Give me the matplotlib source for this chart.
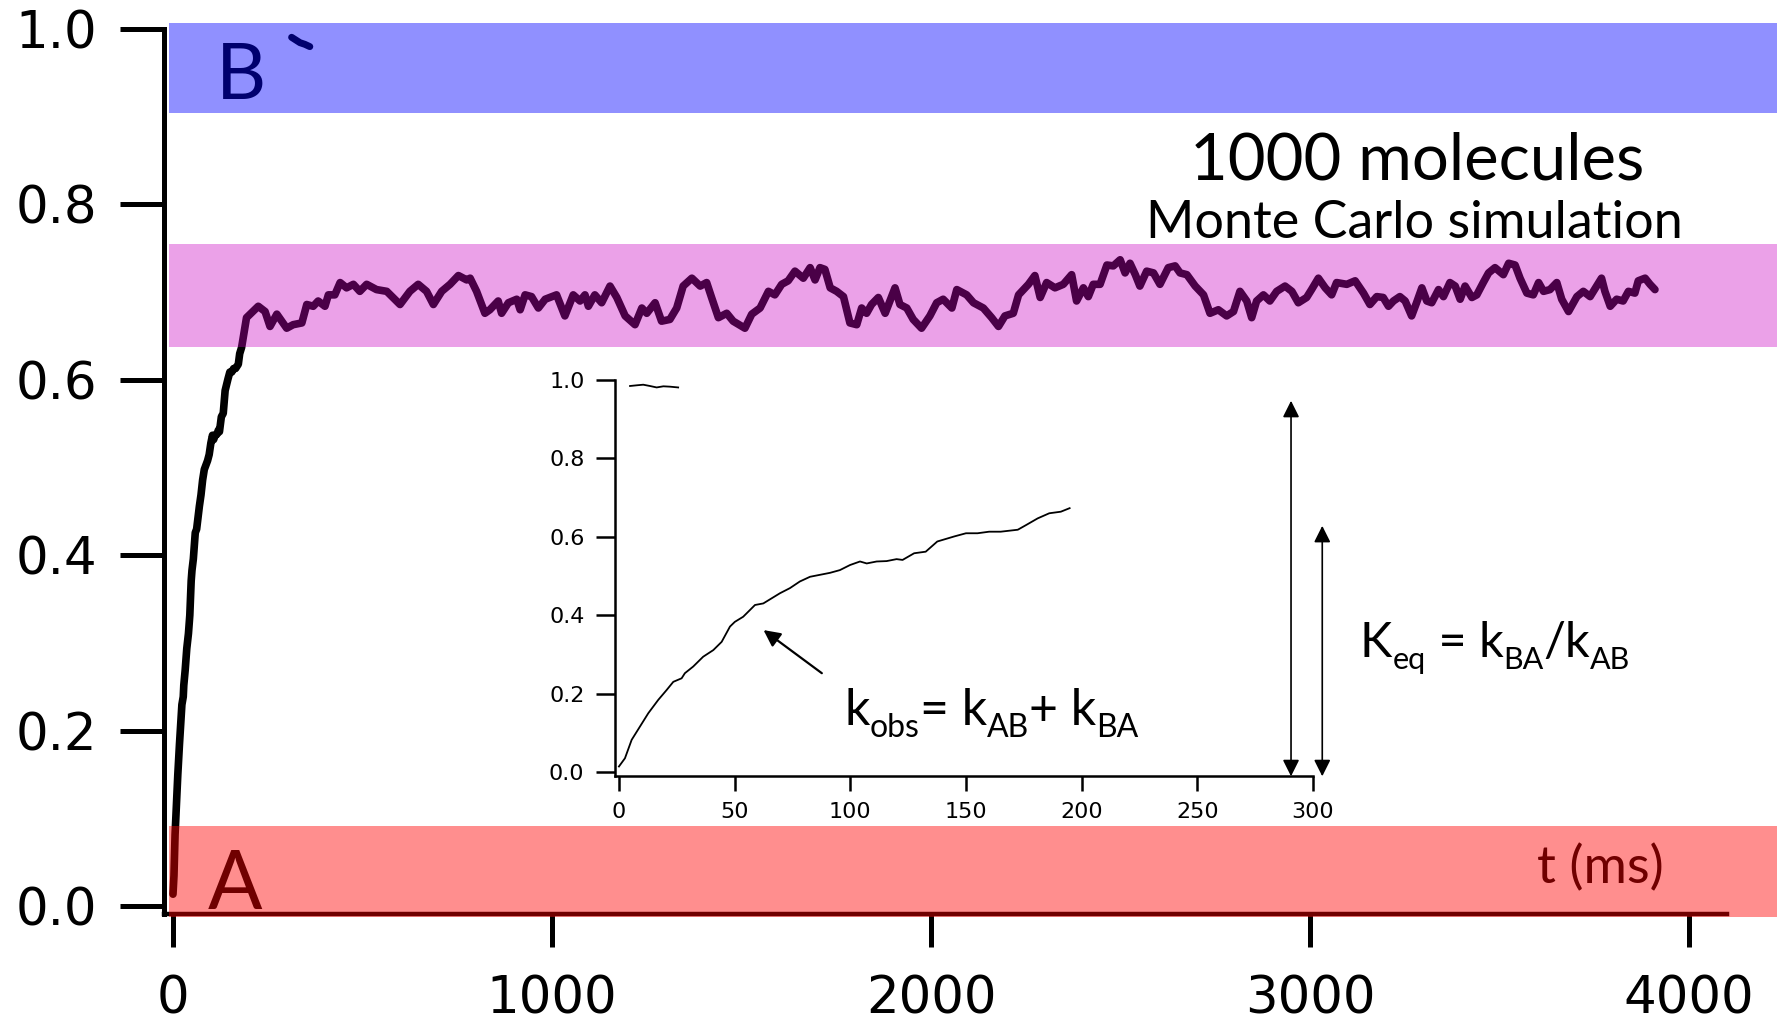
import matplotlib
matplotlib.use('Agg')
import matplotlib.pyplot as plt
from matplotlib.transforms import offset_copy

# ---------------- data ----------------
# early rise of A->B conversion (also shown in the inset), t in ms
rise_t = [0, 2.6, 5.5, 9.1, 12.7, 17.0, 20.6, 23.5, 27.1, 28.5, 32.1, 36.4, 40.8, 44.4,
          48.0, 50.1, 53.7, 56.6, 58.8, 62.4, 66.0, 69.6, 73.9, 78.2, 82.6, 86.9, 91.2,
          95.5, 99.9, 104.2, 107.1, 111.4, 115.7, 120.0, 122.6, 127.6, 132.6, 137.6,
          145.0, 150.0, 155.0, 160.0, 165.0, 172.4, 176.0, 181.0, 186.0, 191.0, 194.8]
rise_v = [0.014, 0.035, 0.082, 0.116, 0.150, 0.184, 0.209, 0.230, 0.239, 0.252, 0.269,
          0.294, 0.311, 0.332, 0.371, 0.383, 0.396, 0.413, 0.426, 0.430, 0.443, 0.456,
          0.469, 0.486, 0.498, 0.503, 0.508, 0.515, 0.528, 0.537, 0.532, 0.537, 0.538,
          0.543, 0.541, 0.558, 0.562, 0.588, 0.601, 0.609, 0.609, 0.613, 0.613, 0.618,
          0.630, 0.647, 0.660, 0.664, 0.673]

# equilibrium fluctuations, t in ms
plateau_t = [181, 194, 225, 243, 256, 274, 300, 317, 340, 353, 370, 383, 401, 410, 427, 441,
             458, 476, 493, 511, 537, 564, 599, 625, 647, 669, 687, 709, 731, 753, 775,
             784, 801, 823, 836, 858, 867, 885, 907, 916, 929, 946, 964, 982, 1012, 1034,
             1056, 1074, 1087, 1096, 1113, 1131, 1153, 1171, 1193, 1219, 1237, 1250, 1272,
             1289, 1311, 1329, 1346, 1369, 1391, 1408, 1421, 1439, 1461, 1478, 1509, 1527,
             1549, 1571, 1588, 1606, 1623, 1641, 1663, 1681, 1694, 1707, 1720, 1734, 1751,
             1769, 1786, 1804, 1817, 1830, 1843, 1861, 1879, 1905, 1918, 1936, 1953, 1975,
             1997, 2015, 2032, 2055, 2068, 2094, 2112, 2138, 2160, 2178, 2195, 2217, 2231,
             2257, 2274, 2288, 2305, 2327, 2349, 2371, 2384, 2402, 2415, 2428, 2446, 2464,
             2481, 2499, 2512, 2525, 2539, 2551, 2569, 2587, 2604, 2626, 2644, 2657, 2675,
             2697, 2719, 2736, 2758, 2780, 2798, 2815, 2833, 2846, 2859, 2877, 2894, 2912,
             2934, 2952, 2969, 2991, 3004, 3022, 3040, 3057, 3070, 3097, 3119, 3141, 3158,
             3176, 3193, 3207, 3220, 3237, 3251, 3268, 3281, 3295, 3308, 3321, 3339, 3352,
             3369, 3383, 3396, 3409, 3427, 3440, 3457, 3471, 3488, 3510, 3524, 3541, 3554,
             3572, 3589, 3603, 3616, 3633, 3651, 3664, 3682, 3704, 3721, 3739, 3756, 3769,
             3778, 3792, 3809, 3826, 3840, 3857, 3866, 3884, 3897, 3910]
plateau_v = [0.637, 0.671, 0.684, 0.678, 0.661, 0.675, 0.659, 0.663, 0.665, 0.686, 0.684,
             0.690, 0.684, 0.697, 0.697, 0.711, 0.705, 0.709, 0.701, 0.709, 0.703, 0.701,
             0.686, 0.701, 0.709, 0.701, 0.686, 0.701, 0.709, 0.719, 0.714,
             0.716, 0.701, 0.676, 0.680, 0.690, 0.676, 0.688, 0.692, 0.680, 0.697, 0.695,
             0.682, 0.692, 0.697, 0.673, 0.697, 0.690, 0.697, 0.684, 0.697, 0.688, 0.707,
             0.694, 0.673, 0.663, 0.682, 0.676, 0.688, 0.667, 0.669, 0.682, 0.707, 0.716,
             0.707, 0.711, 0.694, 0.671, 0.676, 0.667, 0.659, 0.675, 0.682, 0.701, 0.697,
             0.709, 0.713, 0.724, 0.716, 0.728, 0.714, 0.728, 0.726, 0.705, 0.701, 0.695,
             0.665, 0.663, 0.682, 0.676, 0.686, 0.694, 0.676, 0.705, 0.686, 0.682, 0.669,
             0.659, 0.673, 0.688, 0.692, 0.682, 0.703, 0.697, 0.688, 0.682, 0.671, 0.661,
             0.673, 0.676, 0.697, 0.709, 0.719, 0.694, 0.711, 0.705, 0.709, 0.720,
             0.690, 0.705, 0.695, 0.709, 0.709, 0.731, 0.730, 0.737, 0.722, 0.733, 0.720,
             0.707, 0.724, 0.722, 0.709, 0.728, 0.730, 0.722, 0.720, 0.707, 0.697, 0.676,
             0.680, 0.673, 0.678, 0.701, 0.690, 0.671, 0.690, 0.697, 0.690, 0.701, 0.707,
             0.701, 0.688, 0.694, 0.703, 0.716, 0.705, 0.697, 0.711, 0.709, 0.713, 0.699,
             0.686, 0.695, 0.694, 0.684, 0.690, 0.695, 0.690, 0.673, 0.688, 0.705, 0.690,
             0.688, 0.703, 0.695, 0.711, 0.707, 0.692, 0.707, 0.694, 0.697, 0.711, 0.722,
             0.728, 0.720, 0.733, 0.731, 0.716, 0.699, 0.697, 0.711, 0.701, 0.703, 0.711,
             0.692, 0.678, 0.695, 0.701, 0.695, 0.707, 0.716, 0.701, 0.684, 0.692, 0.690,
             0.701, 0.699, 0.713, 0.716, 0.709, 0.703]

# short trace near 1.0 (B)
b_main_t = [313, 322, 335, 348, 361]
b_main_v = [0.9905, 0.988, 0.9844, 0.9825, 0.9799]
b_inset_t = [4.8, 7.6, 10.5, 13.4, 16.3, 19.2, 22.0, 25.6]
b_inset_v = [0.9847, 0.9864, 0.988, 0.9847, 0.981, 0.9839, 0.983, 0.981]

# state bands
band_lo = [0.904, 0.638, -0.012]
band_hi = [1.007, 0.755, 0.092]
band_color = ['#0000FF', '#CB00C3', '#FF0000']
band_alpha = [0.435, 0.37, 0.443]

main_xticks = [0, 1000, 2000, 3000, 4000]
main_yticks = [0.0, 0.2, 0.4, 0.6, 0.8, 1.0]
inset_xticks = [0, 50, 100, 150, 200, 250, 300]
inset_yticks = [0.0, 0.2, 0.4, 0.6, 0.8, 1.0]

# arrows in inset (t, v_bottom, v_top)
keq_arrows_t = [290.5, 304.0]
keq_arrows_top = [0.947, 0.628]
keq_arrows_bottom = -0.011

# equation pieces: (text, is_subscript)
kobs_pieces = [('k', False), ('obs', True), ('= k', False), ('AB', True),
               ('+ k', False), ('BA', True)]
keq_pieces = [('K', False), ('eq', True), (' = k', False), ('BA', True),
              ('/k', False), ('AB', True)]

# ---------------- figure ----------------
fig = plt.figure(figsize=(17.77, 10.21), dpi=100)
renderer = fig.canvas.get_renderer()

XMIN, XMAX = -23.7, 4232
YMIN, YMAX = -0.012, 1.01
ax = fig.add_axes([0.09229, 0.10186, 0.90771, 0.87836])
ax.set_xlim(XMIN, XMAX)
ax.set_ylim(YMIN, YMAX)
ax.patch.set_alpha(0)

# main curve
main_t = [t for t in rise_t if t < 178] + plateau_t
main_v = [v for t, v in zip(rise_t, rise_v) if t < 178] + plateau_v
ax.plot(main_t, main_v, color='black', lw=5.5, solid_joinstyle='round',
        solid_capstyle='round', zorder=2)
ax.plot(b_main_t, b_main_v, color='black', lw=5.0, solid_capstyle='round', zorder=2)

# bands (drawn over, translucent)
for lo, hi, c, a in zip(band_lo, band_hi, band_color, band_alpha):
    ax.fill_between([-10, XMAX], [lo, lo], [hi, hi], color=c, alpha=a, lw=0, zorder=5)

# spines
for s in ['top', 'right']:
    ax.spines[s].set_visible(False)
ax.spines['left'].set_linewidth(3.6)
ax.spines['left'].set_bounds(-0.009, 1.0)
ax.spines['bottom'].set_position(('data', -0.009))
ax.spines['bottom'].set_bounds(XMIN, 4100)
ax.spines['bottom'].set_linewidth(3.2)

ax.set_xticks(main_xticks)
ax.set_xticklabels([str(t) for t in main_xticks])
ax.set_yticks(main_yticks)
ax.set_yticklabels(['%.1f' % v for v in main_yticks])
ax.tick_params(axis='x', direction='out', length=24, width=3.6, pad=19,
               labelsize=37)
ax.tick_params(axis='y', direction='out', length=32, width=3.6, pad=16,
               labelsize=37)
for lab in ax.get_xticklabels() + ax.get_yticklabels():
    lab.set_fontfamily('DejaVu Sans')

# state letters & labels (under bands)
ax.text(112, 0.920, 'B', fontsize=56, family='Lato', ha='left', va='baseline', zorder=3)
ax.text(92, -0.003, 'A', fontsize=58, family='Lato', ha='left', va='baseline', zorder=3)
ax.text(3599, 0.0268, 't (ms)', fontsize=38, family='Lato', ha='left', va='baseline', zorder=3)
ax.text(3283, 0.828, '1000 molecules', fontsize=47, family='Lato', ha='center',
        va='baseline', zorder=3)
ax.text(3275, 0.7615, 'Monte Carlo simulation', fontsize=37.5, family='Lato', ha='center',
        va='baseline', zorder=3)

# ---------------- inset ----------------
ins = fig.add_axes([0.34609, 0.24006, 0.39280, 0.38776])
ins.set_xlim(-1.7, 300)
ins.set_ylim(-0.01, 1.0)
ins.patch.set_alpha(0)
ins.plot(rise_t, rise_v, color='black', lw=1.3)
ins.plot(b_inset_t, b_inset_v, color='black', lw=1.3)
for s in ['top', 'right']:
    ins.spines[s].set_visible(False)
for s in ['left', 'bottom']:
    ins.spines[s].set_linewidth(1.8)
ins.set_xticks(inset_xticks)
ins.set_xticklabels([str(t) for t in inset_xticks])
ins.set_yticks(inset_yticks)
ins.set_yticklabels(['%.1f' % v for v in inset_yticks])
ins.tick_params(axis='x', direction='out', length=11, width=1.8, pad=8, labelsize=16)
ins.tick_params(axis='y', direction='out', length=14, width=1.8, pad=8, labelsize=16)
for lab in ins.get_xticklabels() + ins.get_yticklabels():
    lab.set_fontfamily('DejaVu Sans')

for t, top in zip(keq_arrows_t, keq_arrows_top):
    ins.annotate('', xy=(t, top), xytext=(t, keq_arrows_bottom),
                 arrowprops=dict(arrowstyle='<|-|>', lw=1.2, color='black',
                                 mutation_scale=25, shrinkA=0, shrinkB=0),
                 annotation_clip=False)

ins.annotate('', xy=(62.5, 0.362), xytext=(87.7, 0.252),
             arrowprops=dict(arrowstyle='-|>', lw=1.6, color='black',
                             mutation_scale=25, shrinkA=0, shrinkB=0),
             annotation_clip=False)


def rich_text(axes, x, y, pieces, size, sub_size, sub_drop):
    dx = 0.0
    for txt, is_sub in pieces:
        tr = offset_copy(axes.transData, fig=fig, x=dx,
                         y=-sub_drop if is_sub else 0.0, units='points')
        t = axes.text(x, y, txt, transform=tr, fontsize=sub_size if is_sub else size,
                      family='Lato', ha='left', va='baseline', clip_on=False)
        w = t.get_window_extent(renderer=renderer).width
        dx += w * 72.0 / fig.dpi


rich_text(ins, 97.4, 0.12, kobs_pieces, 36, 23, 8.5)
rich_text(ins, 320.3, 0.293, keq_pieces, 35, 22, 8.5)

fig.savefig('out.png', dpi=100)
